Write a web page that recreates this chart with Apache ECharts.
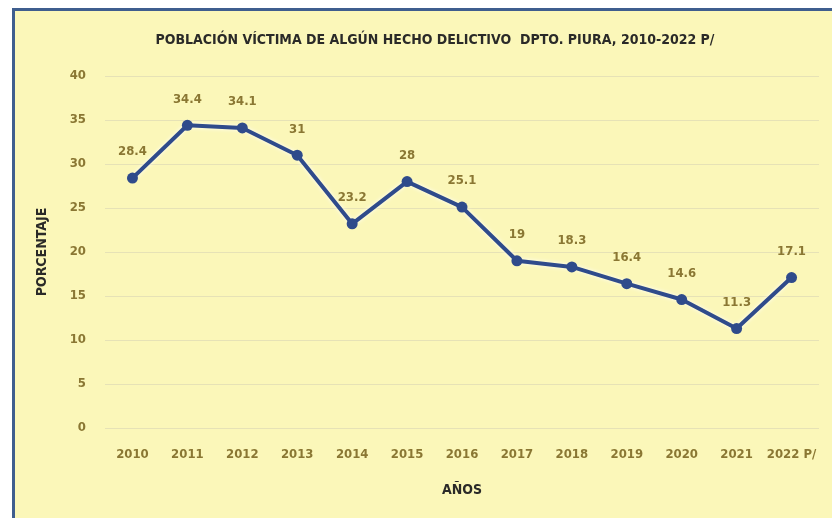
<!DOCTYPE html>
<html>
<head>
<meta charset="utf-8">
<script src="https://cdn.jsdelivr.net/npm/echarts@6/dist/echarts.min.js"></script>
<style>
  html, body { margin: 0; padding: 0; background: #ffffff; }
  #frame {
    position: absolute; left: 12px; top: 8px; width: 820px; height: 510px;
    background: #fbf7b9; border-left: 3px solid #3f5e8e; border-top: 3px solid #3f5e8e;
    box-sizing: border-box;
  }
  #chart { position: absolute; left: 0; top: 0; width: 832px; height: 518px; }
</style>
</head>
<body>
<div id="frame"></div>
<div id="chart"></div>
<script>
// datos del gráfico
const years = ['2010', '2011', '2012', '2013', '2014', '2015', '2016', '2017', '2018', '2019', '2020', '2021', '2022 P/'];
const values = [28.4, 34.4, 34.1, 31, 23.2, 28, 25.1, 19, 18.3, 16.4, 14.6, 11.3, 17.1];
const yTicks = [0, 5, 10, 15, 20, 25, 30, 35, 40];

const font = '"DejaVu Sans Condensed", "Liberation Sans Narrow", sans-serif';
const gold = '#8a7733';
const dark = '#2a2a28';

const myChart = echarts.init(document.getElementById('chart'));
myChart.setOption({
    title: {
        text: 'POBLACIÓN VÍCTIMA DE ALGÚN HECHO DELICTIVO  DPTO. PIURA, 2010-2022 P/',
        left: 430,
        textAlign: 'center',
        top: 28,
        textStyle: {fontFamily: font, fontSize: 14, fontWeight: 'bold', color: dark}
    },
    grid: {left: 105, right: 13, top: 76, bottom: 90},
    xAxis: {
        type: 'category',
        data: years,
        name: 'AÑOS',
        nameLocation: 'middle',
        nameGap: 55,
        nameTextStyle: {fontFamily: font, fontSize: 14, fontWeight: 'bold', color: dark},
        axisLine: {show: false},
        axisTick: {show: false},
        axisLabel: {interval: 0, margin: 20, fontFamily: font, fontSize: 13, fontWeight: 'bold', color: gold}
    },
    yAxis: {
        type: 'value',
        min: yTicks[0],
        max: yTicks[yTicks.length - 1],
        interval: yTicks[1] - yTicks[0],
        name: 'PORCENTAJE',
        nameLocation: 'middle',
        nameGap: 56,
        nameRotate: 90,
        nameTextStyle: {fontFamily: font, fontSize: 14, fontWeight: 'bold', color: dark},
        axisLine: {show: false},
        axisTick: {show: false},
        axisLabel: {margin: 19, fontFamily: font, fontSize: 13, fontWeight: 'bold', color: gold},
        splitLine: {lineStyle: {color: '#e6e2b6', width: 1}}
    },
    series: [{
        type: 'line',
        data: values,
        symbol: 'circle',
        symbolSize: 11,
        itemStyle: {color: '#2f4b8b'},
        lineStyle: {color: '#2f4b8b', width: 4, shadowColor: 'rgba(255,255,255,0.9)', shadowBlur: 4},
        label: {
            show: true,
            position: 'top',
            distance: 14,
            fontFamily: font,
            fontSize: 13,
            fontWeight: 'bold',
            color: gold
        }
    }]
});
</script>
</body>
</html>
